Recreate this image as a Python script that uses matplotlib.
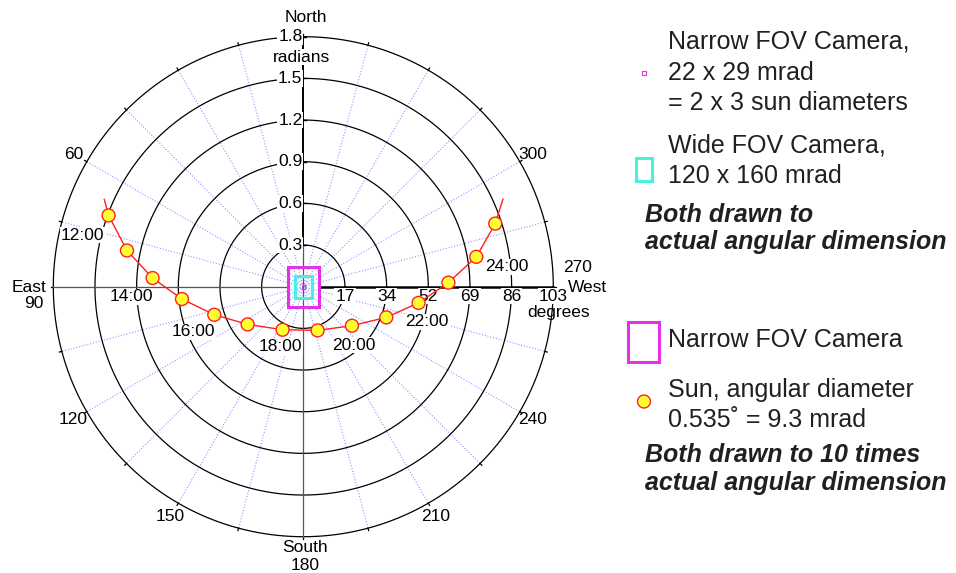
import numpy as np
import matplotlib
matplotlib.use("Agg")
import matplotlib.pyplot as plt
from matplotlib.patches import Circle, Rectangle

plt.rcParams["font.family"] = ["Liberation Sans", "DejaVu Sans"]

# -- geometrie de la figure (pixels) ------------------------------------------
W, H = 956, 573
CX, CY = 303.3, 286.7          # centre du diagramme polaire
SCALE = 250 / 1.8              # pixels par radian

# -- donnees -------------------------------------------------------------------
ring_rad  = [0.3, 0.6, 0.9, 1.2, 1.5, 1.8]
az_labels = [60, 120, 150, 210, 240, 300]

# position du soleil (azimut en degres, distance zenithale en radians)
sun_az  = [69.9, 78.4, 86.7, 95.8, 107.5, 124.1, 154.3,
           198.1, 231.3, 249.7, 262.0, 271.6, 279.8, 288.2]
sun_zen = [1.493, 1.296, 1.087, 0.878, 0.672, 0.484, 0.344,
           0.331, 0.449, 0.637, 0.838, 1.045, 1.264, 1.455]
path_az  = [66.3] + sun_az + [293.7]
path_zen = [1.565] + sun_zen + [1.570]

hour_text = ["12:00", "14:00", "16:00", "18:00", "20:00", "22:00", "24:00"]
hour_x = [-1.590, -1.240, -0.794, -0.168, 0.365, 0.891, 1.467]
hour_y = [0.372, -0.074, -0.326, -0.434, -0.420, -0.254, 0.142]

narrow_fov = (0.022, 0.029)    # rad
wide_fov   = (0.120, 0.160)    # rad
sun_diam   = 0.0093            # rad
ZOOM = 10

MAGENTA = "#e632e6"
CYAN    = "#48f0e0"
TXT     = "#231f20"


def to_xy(az_deg, zen):
    a = np.radians(np.asarray(az_deg, dtype=float))
    z = np.asarray(zen, dtype=float)
    return -z * np.sin(a), z * np.cos(a)


def P(px, py):
    """pixel -> coordonnees du diagramme"""
    return (px - CX) / SCALE, (CY - py) / SCALE


def box(ax, x, y, w, h, color, lw, z=5):
    ax.add_patch(Rectangle((x - w / 2, y - h / 2), w, h, fill=False,
                           ec=color, lw=lw, zorder=z))


fig = plt.figure(figsize=(W / 100, H / 100), dpi=100)
ax = fig.add_axes([0, 0, 1, 1])
ax.set_xlim(-CX / SCALE, (W - CX) / SCALE)
ax.set_ylim(-(H - CY) / SCALE, CY / SCALE)
ax.axis("off")

R = ring_rad[-1]
tt = np.linspace(0, 2 * np.pi, 721)

# -- anneaux et rayons ---------------------------------------------------------
for r in ring_rad:
    ax.plot(r * np.cos(tt), r * np.sin(tt), color="black", lw=0.9, zorder=2)

for a in range(0, 360, 15):
    x, y = to_xy([a, a], [0, R])
    if a % 90:
        ax.plot(x, y, color="#9494ff", lw=0.8, ls=(0, (1, 1.6)), zorder=1)
    x, y = to_xy([a, a], [R, R + 0.018])
    ax.plot(x, y, color="black", lw=0.9, zorder=2)

# axes cardinaux
ax.plot([-R, -0.115], [0, 0], color="#555555", lw=0.9, zorder=3)
ax.plot([0.115, R], [0, 0], color="black", lw=1.8, zorder=3)
ax.plot([0, 0], [0.3, R], color="black", lw=1.4, zorder=3)
ax.plot([0, 0], [-R, 0.3], color="#6a4a6a", lw=0.9, zorder=3)

lab = dict(fontsize=12.5, color="black", zorder=6)
white = dict(facecolor="white", edgecolor="none", pad=0.6)

for r in ring_rad:
    ax.plot([-0.022, 0.022], [r, r], color="black", lw=1.0, zorder=4)
    ax.plot([r, r], [0.0, -0.035], color="black", lw=1.0, zorder=4)
    ax.text(-0.006, r, f"{r:.1f}", ha="right", va="center", bbox=white, **lab)
    ax.text(r, -0.067, f"{np.degrees(r):.0f}", ha="center", va="center",
            bbox=white, **lab)

for a in az_labels:
    x, y = to_xy(a, 1.91)
    ax.text(x, y, str(a), ha="center", va="center", **lab)

ax.text(*P(306, 17), "North", ha="center", va="center", **lab)
ax.text(*P(301.5, 57), "radians", ha="center", va="center", bbox=white, **lab)
ax.text(*P(46, 287), "East", ha="right", va="center", **lab)
ax.text(*P(44, 304), "90", ha="right", va="center", **lab)
ax.text(*P(305, 548), "South", ha="center", va="center", **lab)
ax.text(*P(305, 565), "180", ha="center", va="center", **lab)
ax.text(*P(578, 267), "270", ha="center", va="center", **lab)
ax.text(*P(587, 287), "West", ha="center", va="center", **lab)
ax.text(*P(559, 312), "degrees", ha="center", va="center", **lab)

# -- trajectoire du soleil -----------------------------------------------------
px_, py_ = to_xy(path_az, path_zen)
ax.plot(px_, py_, color="#ff2020", lw=1.0, zorder=7)
sx, sy = to_xy(sun_az, sun_zen)
for x, y in zip(sx, sy):
    ax.add_patch(Circle((x, y), sun_diam * ZOOM / 2, fc="#ffff33",
                        ec="#ff2020", lw=1.0, zorder=8))

for t, x, y in zip(hour_text, hour_x, hour_y):
    ax.text(x, y, t, ha="center", va="center", bbox=white, **lab)

# -- champs de vue au centre ---------------------------------------------------
box(ax, 0, 0, narrow_fov[0] * ZOOM, narrow_fov[1] * ZOOM, MAGENTA, 2.2, 9)
box(ax, 0, 0, wide_fov[0], wide_fov[1], CYAN, 2.2, 9)
box(ax, 0, 0, narrow_fov[0], narrow_fov[1], MAGENTA, 0.8, 9)

# -- legende -------------------------------------------------------------------
reg = dict(fontsize=18, color=TXT, ha="left", va="baseline")
bi = dict(fontsize=18, color=TXT, ha="left", va="baseline",
          fontweight="bold", fontstyle="italic")

box(ax, *P(644, 73), narrow_fov[0], narrow_fov[1], MAGENTA, 0.8)
box(ax, *P(644, 169.5), wide_fov[0], wide_fov[1], CYAN, 2.2)
box(ax, *P(643.5, 342), narrow_fov[0] * ZOOM, narrow_fov[1] * ZOOM, MAGENTA, 2.2)
ax.add_patch(Circle(P(644, 401.5), sun_diam * ZOOM / 2, fc="#ffff33",
                    ec="#ff2020", lw=1.0, zorder=8))

ax.text(*P(668, 48), "Narrow FOV Camera,", **reg)
ax.text(*P(668, 80), "22 x 29 mrad", **reg)
ax.text(*P(668, 110), "= 2 x 3 sun diameters", **reg)
ax.text(*P(668, 152), "Wide FOV Camera,", **reg)
ax.text(*P(668, 183), "120 x 160 mrad", **reg)
ax.text(*P(645, 222), "Both drawn to", **bi)
ax.text(*P(645, 249), "actual angular dimension", **bi)

ax.text(*P(668, 347), "Narrow FOV Camera", **reg)
ax.text(*P(668, 397), "Sun, angular diameter", **reg)
ax.text(*P(668, 427), "0.535\u02da = 9.3 mrad", **reg)
ax.text(*P(645, 462), "Both drawn to 10 times", **bi)
ax.text(*P(645, 490), "actual angular dimension", **bi)

fig.savefig("out.png", dpi=100)
